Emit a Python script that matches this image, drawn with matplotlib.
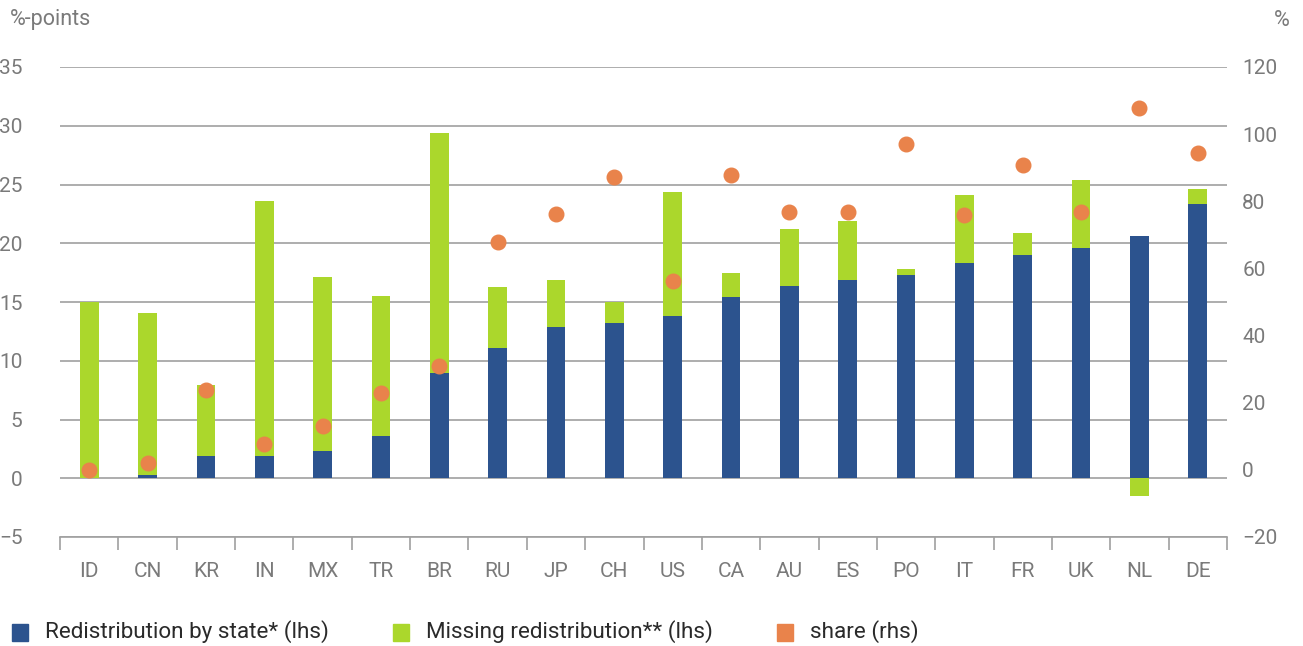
import matplotlib.pyplot as plt
import numpy as np
from matplotlib.patches import Rectangle

# Data
countries = ["ID", "CN", "KR", "IN", "MX", "TR", "BR", "RU", "JP", "CH",
             "US", "CA", "AU", "ES", "PO", "IT", "FR", "UK", "NL", "DE"]
redistribution_by_state = [0.0, 0.3, 1.9, 1.9, 2.3, 3.6, 9.0, 11.1, 12.9, 13.2,
                           13.8, 15.4, 16.4, 16.9, 17.3, 18.3, 19.0, 19.6, 20.6, 23.3]
missing_redistribution = [15.0, 13.8, 6.0, 21.7, 14.8, 11.9, 20.4, 5.2, 4.0, 1.8,
                          10.6, 2.1, 4.8, 5.0, 0.5, 5.8, 1.9, 5.8, -1.5, 1.3]
share = [0.0, 2.0, 23.9, 7.8, 13.2, 22.9, 30.8, 67.9, 76.1, 87.3,
         56.4, 87.8, 76.9, 76.7, 97.0, 75.8, 90.8, 76.7, 107.7, 94.5]

left_ticks = [-5, 0, 5, 10, 15, 20, 25, 30, 35]
right_ticks = [-20, 0, 20, 40, 60, 80, 100, 120]
legend_labels = ["Redistribution by state* (lhs)",
                 "Missing redistribution** (lhs)",
                 "share (rhs)"]

BLUE = "#2c538e"
GREEN = "#abd72c"
ORANGE = "#e9834b"
GRAY_TEXT = "#7a7a7a"
GRID = "#a0a0a0"

plt.rcParams['font.family'] = ['Roboto', 'DejaVu Sans']

W, H = 1303, 646
fig = plt.figure(figsize=(W / 100, H / 100), dpi=100)
ax = fig.add_axes([60 / W, 1 - 537 / H, (1227 - 60) / W, (537 - 67) / H])

x = np.arange(len(countries))
blue = np.array(redistribution_by_state)
miss = np.array(missing_redistribution)
bottom = np.where(miss >= 0, blue, 0.0)

bar_w = 0.32
ax.bar(x, blue, width=bar_w, color=BLUE, zorder=2)
ax.bar(x, miss, bottom=bottom, width=bar_w, color=GREEN, zorder=2)

ax.set_xlim(-0.5, len(countries) - 0.5)
ax.set_ylim(-5, 35)
ax.set_yticks(left_ticks)
ax.set_yticklabels([f"{t}".replace("-", "\u2212") for t in left_ticks])
ax.yaxis.grid(True, color=GRID, lw=1.2)
ax.set_axisbelow(True)
for s in ("top", "left", "right"):
    ax.spines[s].set_visible(False)
ax.spines["bottom"].set_color(GRID)
ax.spines["bottom"].set_linewidth(1.2)
ax.tick_params(axis="y", length=0, pad=27, labelsize=15, labelcolor=GRAY_TEXT)

ax.set_xticks(x)
ax.set_xticklabels(countries)
ax.tick_params(axis="x", which="major", length=0, pad=18, labelsize=15,
               labelcolor=GRAY_TEXT)
ax.set_xticks(np.arange(-0.5, len(countries), 1), minor=True)
ax.tick_params(axis="x", which="minor", length=9, width=1.2, color=GRID)

ax2 = ax.twinx()
ax2.set_ylim(-20, 120)
ax2.set_yticks(right_ticks)
ax2.set_yticklabels([f"{t}".replace("-", "\u2212") for t in right_ticks])
ax2.plot(x, share, "o", ms=10.5, color=ORANGE, ls="none", zorder=3)
for s in ax2.spines.values():
    s.set_visible(False)
ax2.tick_params(axis="y", length=0, pad=11, labelsize=15, labelcolor=GRAY_TEXT)

fig.text(10 / W, 1 - 20 / H, "%-points", ha="left", va="center",
         fontsize=15.5, color=GRAY_TEXT)
fig.text(1290 / W, 1 - 20 / H, "%", ha="right", va="center",
         fontsize=15.5, color=GRAY_TEXT)

# Legend row
legend_colors = [BLUE, GREEN, ORANGE]
legend_x = [12, 393, 777]
for lx, col, lab in zip(legend_x, legend_colors, legend_labels):
    fig.patches.append(Rectangle((lx / W, 1 - 641 / H), 16 / W, 17 / H,
                                 transform=fig.transFigure, color=col))
    fig.text((lx + 33) / W, 1 - 632 / H, lab, ha="left", va="center",
             fontsize=16.2, color="#2a2a2a")

fig.savefig("out.png", dpi=100)
